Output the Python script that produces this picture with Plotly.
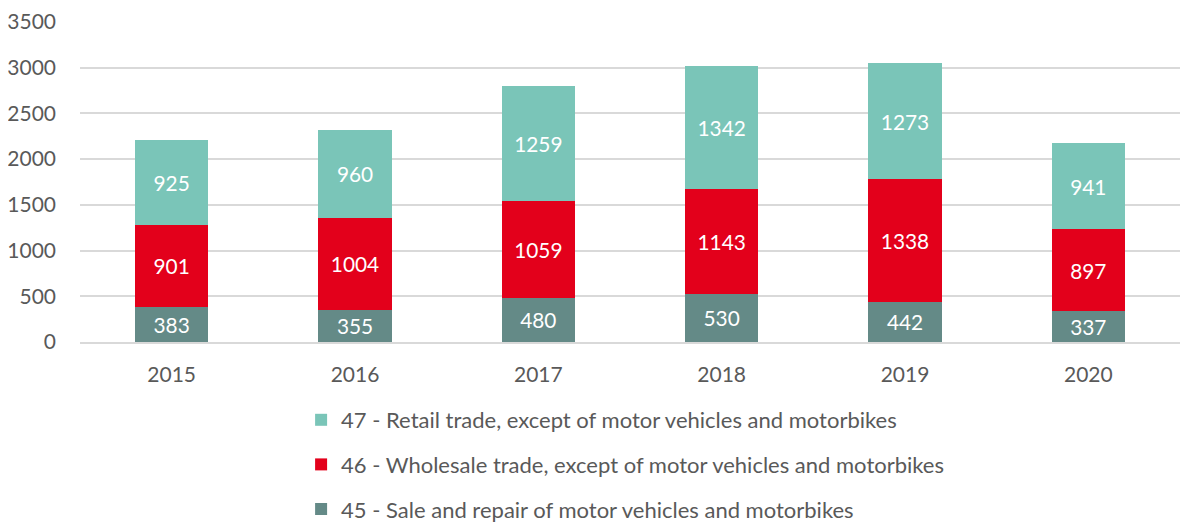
import plotly.graph_objects as go

years = ["2015", "2016", "2017", "2018", "2019", "2020"]
sale_repair_45 = [383, 355, 480, 530, 442, 337]
wholesale_46 = [901, 1004, 1059, 1143, 1338, 897]
retail_47 = [925, 960, 1259, 1342, 1273, 941]

series = [
    ("45 - Sale and repair of motor vehicles and motorbikes", sale_repair_45, "#648A87", 3),
    ("46 - Wholesale trade, except of motor vehicles and motorbikes", wholesale_46, "#E3001B", 2),
    ("47 - Retail trade, except of motor vehicles and motorbikes", retail_47, "#7AC5B8", 1),
]

font_family = "Lato, 'Open Sans', sans-serif"
fig = go.Figure()
for i, (name, vals, color, rank) in enumerate(series):
    fig.add_trace(go.Bar(
        x=years, y=vals, name=name, marker_color=color,
        marker_line_width=0,
        text=[str(v) for v in vals], textposition="inside",
        insidetextanchor="middle",
        textfont=dict(color="white", size=21, family=font_family),
        legendgroup=f"g{i}", legendrank=rank,
        hoverinfo="skip",
    ))

H = 515
fig.update_layout(
    barmode="stack",
    bargap=0.6,
    width=1184, height=H,
    margin=dict(l=72, r=12, t=14, b=181, autoexpand=False),
    plot_bgcolor="white", paper_bgcolor="white",
    font=dict(family=font_family, color="#595959", size=20),
    uniformtext=dict(mode="show", minsize=10),
    showlegend=True,
    legend=dict(
        orientation="v", traceorder="grouped",
        x=0.201, xanchor="left",
        yref="container", y=1 - 391 / H, yanchor="top",
        font=dict(size=22, color="#595959"),
        tracegroupgap=13,
        itemwidth=30,
    ),
    yaxis=dict(range=[0, 3500], dtick=500, showgrid=True, gridcolor="#D9D9D9",
               gridwidth=1.5, zeroline=False, showline=False, ticks="",
               tickfont=dict(size=21), ticklabelstandoff=23, automargin=False),
    xaxis=dict(showline=True, linecolor="#D9D9D9", linewidth=1.5, ticks="",
               tickfont=dict(size=21), ticklabelstandoff=13, automargin=False),
)

fig.write_html("out.html")
